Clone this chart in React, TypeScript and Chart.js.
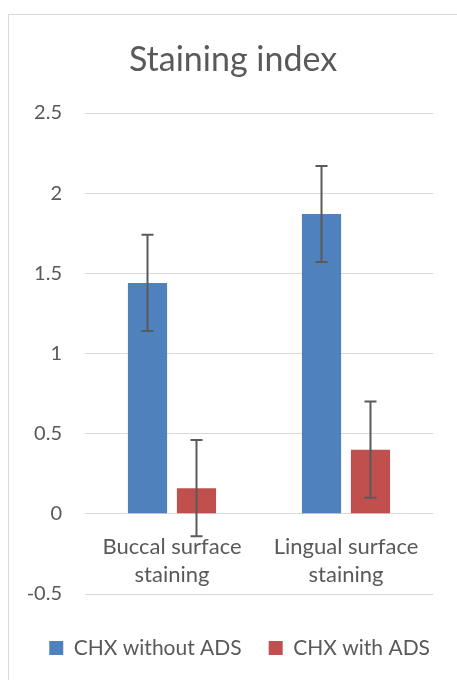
import React, { useEffect, useRef } from "react";
import { Chart, registerables } from "chart.js";

Chart.register(...registerables);

const titleText = "Staining index";
const categories = [
  ["Buccal surface", "staining"],
  ["Lingual surface", "staining"],
];
const seriesNames = ["CHX without ADS", "CHX with ADS"];
const withoutADS = [1.44, 1.87];
const withADS = [0.16, 0.4];
const withoutADSError = [0.3, 0.3];
const withADSError = [0.3, 0.3];
const yMin = -0.5;
const yMax = 2.5;
const yStep = 0.5;

const FONT = "Lato";
const TEXT = "#595959";

const errorBarPlugin = {
  id: "errorBars",
  afterDatasetsDraw(chart: any) {
    const ctx = chart.ctx;
    const yScale = chart.scales.y;
    chart.data.datasets.forEach((ds: any, i: number) => {
      const meta = chart.getDatasetMeta(i);
      meta.data.forEach((bar: any, j: number) => {
        const v = ds.data[j];
        const e = ds.errors[j];
        const top = yScale.getPixelForValue(v + e);
        const bot = yScale.getPixelForValue(v - e);
        const x = bar.x;
        ctx.save();
        ctx.strokeStyle = "#5a5a5a";
        ctx.lineWidth = 2;
        ctx.beginPath();
        ctx.moveTo(x, top);
        ctx.lineTo(x, bot);
        ctx.moveTo(x - 6, top);
        ctx.lineTo(x + 6, top);
        ctx.moveTo(x - 6, bot);
        ctx.lineTo(x + 6, bot);
        ctx.stroke();
        ctx.restore();
      });
    });
  },
};

export default function App() {
  const ref = useRef<HTMLCanvasElement | null>(null);

  useEffect(() => {
    if (!ref.current) return;
    const chart = new Chart(ref.current, {
      type: "bar",
      data: {
        labels: categories as any,
        datasets: [
          {
            label: seriesNames[0],
            data: withoutADS,
            errors: withoutADSError,
            backgroundColor: "#4F81BD",
            borderWidth: 0,
            categoryPercentage: 0.563,
            barPercentage: 0.8,
          } as any,
          {
            label: seriesNames[1],
            data: withADS,
            errors: withADSError,
            backgroundColor: "#C0504D",
            borderWidth: 0,
            categoryPercentage: 0.563,
            barPercentage: 0.8,
          } as any,
        ],
      },
      options: {
        responsive: false,
        animation: false,
        devicePixelRatio: 1,
        layout: { padding: { left: 0, right: 0, top: 0, bottom: 11.5 } },
        scales: {
          x: {
            position: { y: 0 } as any,
            grid: { display: false, drawTicks: false },
            border: { display: false },
            ticks: {
              color: TEXT,
              padding: 19.5,
              font: { family: FONT, size: 22, lineHeight: 1.25 },
              maxRotation: 0,
              autoSkip: false,
            },
          },
          y: {
            min: yMin,
            max: yMax,
            afterFit: (scale: any) => {
              scale.width = 76;
            },
            grid: { color: "#d9d9d9", lineWidth: 1, drawTicks: false },
            border: { display: false },
            ticks: {
              stepSize: yStep,
              color: TEXT,
              padding: 23,
              font: { family: FONT, size: 20 },
              callback: (v: any) => String(v),
            },
          },
          yRight: {
            type: "linear",
            position: "right",
            afterFit: (scale: any) => {
              scale.width = 24;
            },
            grid: { display: false, drawTicks: false },
            border: { display: false },
            ticks: { display: false },
          },
        },
        plugins: {
          title: {
            display: true,
            text: titleText,
            color: TEXT,
            font: { family: FONT, size: 34, weight: "normal", lineHeight: 1.2 },
            padding: { top: 24.6, bottom: 32.6 },
          },
          legend: {
            position: "bottom",
            align: "end",
            title: {
              display: true,
              text: "",
              font: { size: 10, lineHeight: 1 },
              padding: { top: 0, bottom: 6.5 },
            },
            labels: {
              color: TEXT,
              boxWidth: 14,
              boxHeight: 14,
              padding: 27,
              font: { family: FONT, size: 21 },
            },
          },
          tooltip: { enabled: false },
        },
      } as any,
      plugins: [errorBarPlugin],
    });
    return () => chart.destroy();
  }, []);

  return (
    <div
      style={{
        position: "fixed",
        left: 8,
        top: 14,
        width: 449,
        height: 666,
        borderLeft: "1px solid #d9d9d9",
        borderTop: "1px solid #d9d9d9",
        boxSizing: "border-box",
        background: "#fff",
      }}
    >
      <canvas ref={ref} width={448} height={665} style={{ display: "block", width: 448, height: 665 }} />
    </div>
  );
}
